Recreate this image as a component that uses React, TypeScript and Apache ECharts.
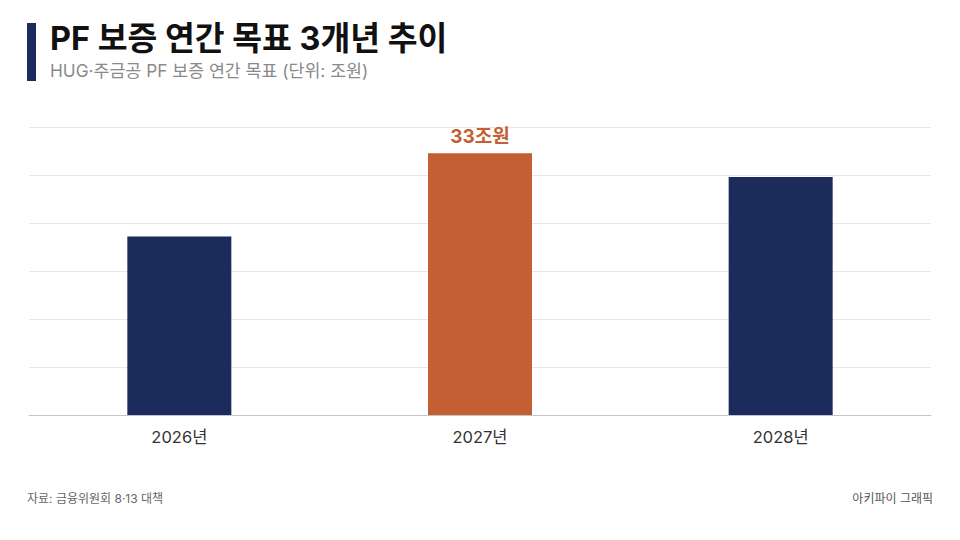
import { useEffect, useRef } from "react";
import * as echarts from "echarts";

const years = ["2026년", "2027년", "2028년"];
const targets = [22.5, 33, 30];
const highlightIndex = 1;
const valueLabels = ["", "33조원", ""];

const title = "PF 보증 연간 목표 3개년 추이";
const subtitle = "HUG·주금공 PF 보증 연간 목표 (단위: 조원)";
const source = "자료: 금융위원회 8·13 대책";
const credit = "아키파이 그래픽";

const NAVY = "#1b2b5c";
const ORANGE = "#c45e33";
const FONT = 'Inter, "Noto Sans CJK KR", "Noto Sans", sans-serif';

export default function App() {
  const chartRef = useRef<HTMLDivElement | null>(null);

  useEffect(() => {
    document.body.style.margin = "0";
    const el = chartRef.current;
    if (!el) {
      return undefined;
    }

    const chart = echarts.init(el, undefined, { renderer: "svg" });

    chart.setOption({
      animation: false,
      backgroundColor: "#ffffff",
      textStyle: { fontFamily: FONT },
      grid: { left: 29, right: 29, top: 127, bottom: 125, containLabel: false },
      xAxis: {
        type: "category",
        data: years,
        axisLine: { lineStyle: { color: "#c4c4c8", width: 1 } },
        axisTick: { show: false },
        axisLabel: { color: "#333333", fontSize: 16.5, margin: 14, fontFamily: FONT },
      },
      yAxis: {
        type: "value",
        min: 0,
        max: 36.3,
        interval: 6.05,
        axisLabel: { show: false },
        axisLine: { show: false },
        axisTick: { show: false },
        splitLine: { lineStyle: { color: "#e6e6e6", width: 1 } },
      },
      series: [
        {
          type: "bar",
          barWidth: 104,
          data: targets.map((v, i) => ({
            value: v,
            itemStyle: { color: i === highlightIndex ? ORANGE : NAVY },
            label: {
              show: valueLabels[i] !== "",
              formatter: valueLabels[i],
            },
          })),
          label: {
            position: "top",
            distance: 7,
            color: ORANGE,
            fontSize: 19,
            fontWeight: "bold",
            fontFamily: FONT,
          },
        },
      ],
      graphic: [
        {
          type: "rect",
          left: 27,
          top: 23,
          shape: { width: 9, height: 58 },
          style: { fill: NAVY },
        },
        {
          type: "text",
          left: 50,
          top: 22,
          style: {
            text: title,
            fill: "#111111",
            font: `bold 32.4px ${FONT}`,
          },
        },
        {
          type: "text",
          left: 50,
          top: 62,
          style: {
            text: subtitle,
            fill: "#8a8a8a",
            font: `17.3px ${FONT}`,
          },
        },
        {
          type: "text",
          left: 27,
          top: 492,
          style: {
            text: source,
            fill: "#666666",
            font: `12px ${FONT}`,
          },
        },
        {
          type: "text",
          right: 27,
          top: 492,
          style: {
            text: credit,
            fill: "#555555",
            font: `12px ${FONT}`,
          },
        },
      ],
    });

    return () => {
      chart.dispose();
    };
  }, []);

  return <div ref={chartRef} style={{ width: 960, height: 540 }} />;
}
